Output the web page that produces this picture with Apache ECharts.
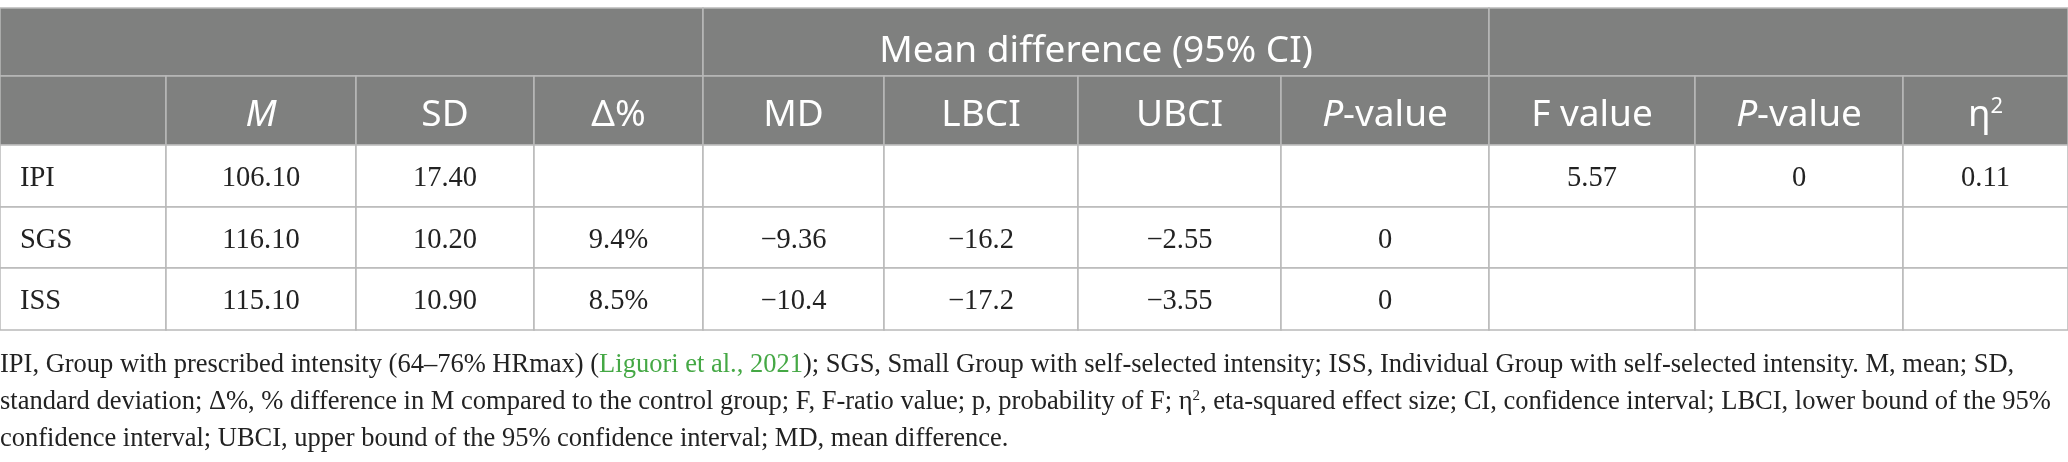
<!DOCTYPE html>
<html>
<head>
<meta charset="utf-8">
<script src="https://cdn.jsdelivr.net/npm/echarts@6/dist/echarts.min.js"></script>
<style>
  html, body { margin: 0; padding: 0; background: #fff; }
  #main { width: 2068px; height: 462px; }
</style>
</head>
<body>
<div id="main"></div>
<script>
// table values
const groups = ['IPI', 'SGS', 'ISS'];
const meanM = ['106.10', '116.10', '115.10'];
const sdValues = ['17.40', '10.20', '10.90'];
const deltaPct = ['', '9.4%', '8.5%'];
const mdValues = ['', '\u22129.36', '\u221210.4'];
const lbciValues = ['', '\u221216.2', '\u221217.2'];
const ubciValues = ['', '\u22122.55', '\u22123.55'];
const mdPValues = ['', '0', '0'];
const fValues = ['5.57', '', ''];
const anovaPValues = ['0', '', ''];
const etaSquared = ['0.11', '', ''];

const groupHeaders = ['', 'Mean difference (95% CI)', ''];
const groupSpans = [[0, 4], [4, 8], [8, 11]];
const columnHeaders = ['', 'M', 'SD', '\u0394%', 'MD', 'LBCI', 'UBCI', 'P-value', 'F value', 'P-value', '\u03b72'];

const footnote = [
  'IPI, Group with prescribed intensity (64\u201376% HRmax) ({g|Liguori et al., 2021}); SGS, Small Group with self-selected intensity; ISS, Individual Group with self-selected intensity. M, mean; SD,',
  'standard deviation; \u0394%, % difference in M compared to the control group; F, F-ratio value; p, probability of F; \u03b7{s|2}, eta-squared effect size; CI, confidence interval; LBCI, lower bound of the 95%',
  'confidence interval; UBCI, upper bound of the 95% confidence interval; MD, mean difference.'
];

// layout (table units = px)
const colEdges = [0, 166, 356, 534, 703, 884, 1078, 1281, 1489, 1695, 1903, 2068];
const rowEdges = [8, 76, 145, 207, 268, 330];
const headFill = '#7f807f';
const lineColor = '#b9b9b9';
const serif = 'Liberation Serif';
const sans = 'Noto Sans';

const bodyColumns = [groups, meanM, sdValues, deltaPct, mdValues, lbciValues, ubciValues,
  mdPValues, fValues, anovaPValues, etaSquared];

function headLabel(t) {
  if (t === 'M') return '{i|M}';
  if (t === 'P-value') return '{i|P}-value';
  if (t === '\u03b72') return '\u03b7{s|2}';
  return t;
}

const cells = [];
groupHeaders.forEach((t, i) => {
  cells.push({ c0: groupSpans[i][0], c1: groupSpans[i][1], r: 0, text: t, head: true });
});
columnHeaders.forEach((t, i) => {
  cells.push({ c0: i, c1: i + 1, r: 1, text: headLabel(t), head: true });
});
groups.forEach((g, r) => {
  bodyColumns.forEach((col, c) => {
    cells.push({ c0: c, c1: c + 1, r: r + 2, text: col[r], head: false, left: c === 0 });
  });
});

const chart = echarts.init(document.getElementById('main'));

chart.setOption({
  animation: false,
  grid: { left: 0, right: 0, top: 0, bottom: 0 },
  xAxis: { type: 'value', min: 0, max: 2068, show: false },
  yAxis: { type: 'value', min: 0, max: 462, inverse: true, show: false },
  series: [{
    type: 'custom',
    coordinateSystem: 'cartesian2d',
    data: cells.map(c => [c.c0, c.c1, c.r]),
    renderItem: function (params, api) {
      const cell = cells[params.dataIndex];
      const row = api.value(2);
      const p0 = api.coord([colEdges[api.value(0)], rowEdges[row]]);
      const p1 = api.coord([colEdges[api.value(1)], rowEdges[row + 1]]);
      const w = p1[0] - p0[0], h = p1[1] - p0[1];
      const fs = cell.head ? 37 : 28.5;
      const fam = cell.head ? sans : serif;
      const dy = cell.head ? (row === 0 ? 9 : 5) : 3;
      return {
        type: 'group',
        children: [{
          type: 'rect',
          shape: { x: p0[0], y: p0[1], width: w, height: h },
          style: { fill: cell.head ? headFill : '#fff', stroke: lineColor, lineWidth: 1.5 }
        }, {
          type: 'text',
          x: cell.left ? p0[0] + 20 : p0[0] + w / 2,
          y: p0[1] + h / 2 + dy,
          style: {
            text: cell.text,
            fill: cell.head ? '#fff' : '#222',
            fontSize: fs,
            fontFamily: fam,
            align: cell.left ? 'left' : 'center',
            verticalAlign: 'middle',
            rich: {
              i: { fontStyle: 'italic', fontSize: fs, fontFamily: fam, fill: '#fff' },
              s: { fontSize: 22, fontFamily: fam, fill: '#fff', padding: [0, 0, 18, 0] }
            }
          }
        }]
      };
    }
  }],
  graphic: [{
    type: 'text',
    left: 0,
    top: 347,
    style: {
      text: footnote.join('\n'),
      fill: '#222',
      fontSize: 26.5,
      fontFamily: serif,
      lineHeight: 37,
      rich: {
        g: { fill: '#45a845', fontSize: 26.5, fontFamily: serif, lineHeight: 37 },
        s: { fontSize: 15, fontFamily: serif, lineHeight: 37, padding: [0, 0, 12, 0], fill: '#222' }
      }
    }
  }]
});
</script>
</body>
</html>
